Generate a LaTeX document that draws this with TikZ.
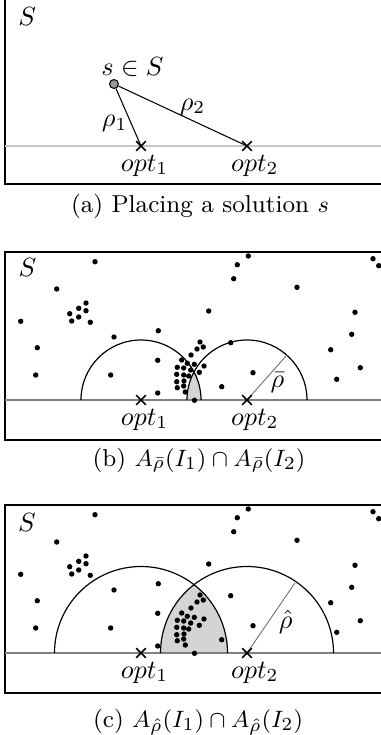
\documentclass[tikz,border=0pt]{standalone}
\usetikzlibrary{shapes.misc}
\begin{document}
\begin{tikzpicture}[x=0.38pt,y=-0.38pt,
  frame/.style={line width=0.55pt},
  axisA/.style={draw=black!22,line width=0.45pt},
  axisB/.style={draw=black!50,line width=0.4pt},
  optmark/.style={cross out,draw,line width=0.55pt,minimum size=3.1pt,inner sep=0pt},
  sdot/.style={circle,draw,fill=black!40,line width=0.4pt,minimum size=3.4pt,inner sep=0pt},
  dotpt/.style={circle,fill=black,minimum size=2.05pt,inner sep=0pt},
  lbl/.style={inner sep=0pt,anchor=base},
  captext/.style={inner sep=0pt,anchor=base,font=\fontsize{9.3}{11}\selectfont},
  arcline/.style={line width=0.45pt},
  radline/.style={draw=black!55,line width=0.35pt},
  lensfill/.style={fill=black!17},
  conn/.style={line width=0.4pt}]
\useasboundingbox (0,0) rectangle (381,735);
\clip (0,0) rectangle (381,735);
\def\dotlist{(95,261.7),(56.7,289),(20.7,321.3),(37.3,347.7),(35.7,375),
(69.7,313.7),(78.7,308.3),(86,303),(86,310.7),(71.7,321),(78.7,317),(90.3,322.3),
(114,337),(110.7,375),(158.3,330.7),(157.7,360.3),(157.7,393),
(208.7,311),(230.7,342.7),(253,372.7),(221.7,386.7),(194.5,400.3),
(237.3,264.7),(248.3,256),(233.7,278.7),(297,287.3),
(373,258.7),(378.7,265.7),(355,312.3),(351.7,334.3),(330.7,349.7),(360.3,367.7),(336.7,379.3),
(200,342),(203.3,347),(197,349),(191,355),(181.7,360),(187.3,363.3),(194.3,364.3),(204,366),
(177.3,367.3),(183.7,368),(190.7,370),(199.3,372.3),(176.7,374.3),(183.7,375),(188.7,376),
(176.7,381.7),(184,381),(177.3,387.7),(183.7,386),(185.3,392)}

% ---------- (a) ----------
\draw[frame] (5,-5) rectangle (395,184);
\draw[axisA] (5,146) -- (395,146);
\node[lbl] (Sa) at (27.3,25) {$S$};
\node[sdot] (s) at (114,84) {};
\node[lbl] (slbl) at (132.5,75) {$s\in S$};
\node[optmark] (opta1) at (141,146) {};
\node[optmark] (opta2) at (247,146) {};
\draw[conn] (s) -- (opta1.center);
\draw[conn] (s) -- (opta2.center);
\node[lbl] (rho1) at (114.7,126.7) {$\rho_1$};
\node[lbl] (rho2) at (192.5,110) {$\rho_2$};
\node[lbl] (oa1) at (144.5,171) {$opt_1$};
\node[lbl] (oa2) at (254.7,171) {$opt_2$};
\node[captext] (capa) at (200,212.5) {(a) Placing a solution $s$};

% ---------- (b) ----------
\draw[frame] (5,252) rectangle (395,440);
\coordinate (optb1) at (141,400);
\coordinate (optb2) at (247,400);
\begin{scope}
  \clip (5,252) rectangle (381,400);
  \clip (optb1) circle[radius=60];
  \fill[lensfill] (optb2) circle[radius=60];
\end{scope}
\draw[axisB] (5,400) -- (395,400);
\draw[arcline] (optb1) ++(-60,0) arc[start angle=180,end angle=360,radius=60];
\draw[arcline] (optb2) ++(-60,0) arc[start angle=180,end angle=360,radius=60];
\draw[radline] (optb2) -- ++(-48.4:60) coordinate (rbend);
\foreach \p in \dotlist { \node[dotpt] at \p {}; }
\node[optmark] (xb1) at (optb1) {};
\node[optmark] (xb2) at (optb2) {};
\node[lbl] (Sb) at (27.5,276.5) {$S$};
\node[lbl] (rhobar) at (277.5,387.5) {$\bar\rho$};
\node[lbl] (ob1) at (144.5,425) {$opt_1$};
\node[lbl] (ob2) at (254.7,425) {$opt_2$};
\node[captext] (capb) at (199,466) {(b) $A_{\bar\rho}(I_1)\cap A_{\bar\rho}(I_2)$};

% ---------- (c) ----------
\draw[frame] (5,505) rectangle (395,693);
\coordinate (optc1) at (141,653);
\coordinate (optc2) at (247,653);
\begin{scope}
  \clip (5,505) rectangle (381,653);
  \clip (optc1) circle[radius=86.5];
  \fill[lensfill] (optc2) circle[radius=86.5];
\end{scope}
\draw[axisB] (5,653) -- (395,653);
\draw[arcline] (optc1) ++(-86.5,0) arc[start angle=180,end angle=360,radius=86.5];
\draw[arcline] (optc2) ++(-86.5,0) arc[start angle=180,end angle=360,radius=86.5];
\draw[radline] (optc2) -- ++(-55.6:85) coordinate (rcend);
\begin{scope}[yshift=-253*0.38pt]
\foreach \p in \dotlist { \node[dotpt] at \p {}; }
\end{scope}
\node[optmark] (xc1) at (optc1) {};
\node[optmark] (xc2) at (optc2) {};
\node[lbl] (Sc) at (27,531) {$S$};
\node[lbl] (rhohat) at (285.7,628) {$\hat\rho$};
\node[lbl] (oc1) at (144.5,678) {$opt_1$};
\node[lbl] (oc2) at (254.7,678) {$opt_2$};
\node[captext] (capc) at (198,727) {(c) $A_{\hat\rho}(I_1)\cap A_{\hat\rho}(I_2)$};
\end{tikzpicture}
\end{document}
